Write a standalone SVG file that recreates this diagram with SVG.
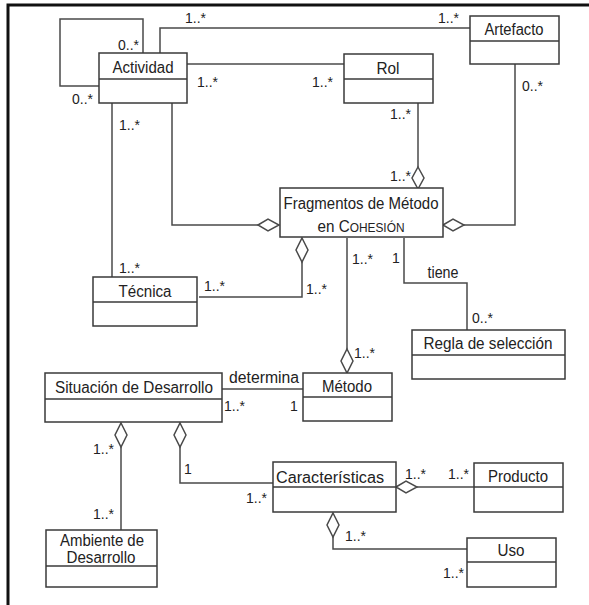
<svg xmlns="http://www.w3.org/2000/svg" width="589" height="605" viewBox="0 0 589 605">
<style>
.b{fill:#fff;stroke:#3a3a3a;stroke-width:1.5}
.l{fill:none;stroke:#4a4a4a;stroke-width:1.5}
.d{fill:#fff;stroke:#4a4a4a;stroke-width:1.5}
text{font-family:"Liberation Sans",Arial,sans-serif;fill:#222}
.t{font-size:16px;text-anchor:middle}
.m{font-size:14px}
</style>
<rect width="589" height="605" fill="#fff"/>
<path d="M8,605 V5 H589" fill="none" stroke="#111" stroke-width="3"/>
<g id="connectors">
<path class="l" d="M99,86 H60 V19 H143 V53"/>
<path class="l" d="M160,53 V28 H470"/>
<path class="l" d="M187,64 H344"/>
<path class="l" d="M418,103 V167"/>
<polygon class="d" points="418,167 424,178 418,189 412,178"/>
<path class="l" d="M515,64 V225 H464"/>
<polygon class="d" points="443,225 453,219 464,225 453,231"/>
<path class="l" d="M172,103 V225 H258"/>
<polygon class="d" points="258,225 268,219 279,225 268,231"/>
<path class="l" d="M112,103 V277"/>
<path class="l" d="M199,297 H302 V262"/>
<polygon class="d" points="302,238 308,250 302,262 296,250"/>
<path class="l" d="M347,238 V349"/>
<polygon class="d" points="347,349 353,361 347,373 341,361"/>
<path class="l" d="M404,238 V283 H467 V330"/>
<path class="l" d="M222,389 H303"/>
<polygon class="d" points="121,423 127,435 121,447 115,435"/>
<path class="l" d="M121,447 V530"/>
<polygon class="d" points="180,423 186,435 180,447 174,435"/>
<path class="l" d="M180,447 V483 H273"/>
<polygon class="d" points="396,487 406,481 417,487 406,493"/>
<path class="l" d="M417,487 H474"/>
<polygon class="d" points="333,513 339,525 333,537 327,525"/>
<path class="l" d="M333,537 V549 H467"/>
</g>
<g id="labels">
<text class="m" x="118" y="50" textLength="21" lengthAdjust="spacingAndGlyphs">0..*</text>
<text class="m" x="72" y="104" textLength="21" lengthAdjust="spacingAndGlyphs">0..*</text>
<text class="m" x="185" y="23" textLength="21" lengthAdjust="spacingAndGlyphs">1..*</text>
<text class="m" x="438" y="23" textLength="21" lengthAdjust="spacingAndGlyphs">1..*</text>
<text class="m" x="197" y="87" textLength="21" lengthAdjust="spacingAndGlyphs">1..*</text>
<text class="m" x="312" y="87" textLength="21" lengthAdjust="spacingAndGlyphs">1..*</text>
<text class="m" x="522" y="91" textLength="21" lengthAdjust="spacingAndGlyphs">0..*</text>
<text class="m" x="119" y="130" textLength="21" lengthAdjust="spacingAndGlyphs">1..*</text>
<text class="m" x="390" y="119" textLength="21" lengthAdjust="spacingAndGlyphs">1..*</text>
<text class="m" x="390" y="181" textLength="21" lengthAdjust="spacingAndGlyphs">1..*</text>
<text class="m" x="119" y="273" textLength="21" lengthAdjust="spacingAndGlyphs">1..*</text>
<text class="m" x="204" y="291" textLength="21" lengthAdjust="spacingAndGlyphs">1..*</text>
<text class="m" x="306" y="294" textLength="21" lengthAdjust="spacingAndGlyphs">1..*</text>
<text class="m" x="352" y="264" textLength="21" lengthAdjust="spacingAndGlyphs">1..*</text>
<text class="m" x="392" y="263">1</text>
<text class="t" x="443" y="278" textLength="31" lengthAdjust="spacingAndGlyphs">tiene</text>
<text class="m" x="472" y="323" textLength="21" lengthAdjust="spacingAndGlyphs">0..*</text>
<text class="m" x="354" y="358" textLength="21" lengthAdjust="spacingAndGlyphs">1..*</text>
<text class="t" x="264" y="383" textLength="70" lengthAdjust="spacingAndGlyphs">determina</text>
<text class="m" x="224" y="411" textLength="21" lengthAdjust="spacingAndGlyphs">1..*</text>
<text class="m" x="290" y="411">1</text>
<text class="m" x="93" y="454" textLength="21" lengthAdjust="spacingAndGlyphs">1..*</text>
<text class="m" x="93" y="519" textLength="21" lengthAdjust="spacingAndGlyphs">1..*</text>
<text class="m" x="184" y="474">1</text>
<text class="m" x="246" y="503" textLength="21" lengthAdjust="spacingAndGlyphs">1..*</text>
<text class="m" x="405" y="479" textLength="21" lengthAdjust="spacingAndGlyphs">1..*</text>
<text class="m" x="448" y="479" textLength="21" lengthAdjust="spacingAndGlyphs">1..*</text>
<text class="m" x="345" y="541" textLength="21" lengthAdjust="spacingAndGlyphs">1..*</text>
<text class="m" x="443" y="578" textLength="21" lengthAdjust="spacingAndGlyphs">1..*</text>
</g>
<g id="actividad"><rect class="b" x="99" y="53" width="88" height="50"/><line class="b" x1="99" y1="79" x2="187" y2="79"/><text class="t" x="143" y="73" textLength="61" lengthAdjust="spacingAndGlyphs">Actividad</text></g>
<g id="rol"><rect class="b" x="344" y="54" width="89" height="49"/><line class="b" x1="344" y1="79" x2="433" y2="79"/><text class="t" x="388" y="74" textLength="23" lengthAdjust="spacingAndGlyphs">Rol</text></g>
<g id="artefacto"><rect class="b" x="470" y="16" width="89" height="48"/><line class="b" x1="470" y1="41" x2="559" y2="41"/><text class="t" x="514" y="35" textLength="59" lengthAdjust="spacingAndGlyphs">Artefacto</text></g>
<g id="fragmentos"><rect class="b" x="280" y="188" width="163" height="49"/><text class="t" x="361" y="209" textLength="155" lengthAdjust="spacingAndGlyphs">Fragmentos de Método</text><text class="t" x="361" y="232" textLength="87" lengthAdjust="spacingAndGlyphs">en C<tspan font-size="12.5">OHESIÓN</tspan></text></g>
<g id="tecnica"><rect class="b" x="93" y="277" width="104" height="49"/><line class="b" x1="93" y1="302" x2="197" y2="302"/><text class="t" x="145" y="297" textLength="53" lengthAdjust="spacingAndGlyphs">Técnica</text></g>
<g id="regla"><rect class="b" x="412" y="330" width="153" height="49"/><line class="b" x1="412" y1="355" x2="565" y2="355"/><text class="t" x="488" y="349" textLength="129" lengthAdjust="spacingAndGlyphs">Regla de selección</text></g>
<g id="metodo"><rect class="b" x="303" y="373" width="89" height="48"/><line class="b" x1="303" y1="397" x2="392" y2="397"/><text class="t" x="347" y="392" textLength="50" lengthAdjust="spacingAndGlyphs">Método</text></g>
<g id="situacion"><rect class="b" x="45" y="373" width="177" height="49"/><line class="b" x1="45" y1="399" x2="222" y2="399"/><text class="t" x="134" y="393" textLength="158" lengthAdjust="spacingAndGlyphs">Situación de Desarrollo</text></g>
<g id="caracteristicas"><rect class="b" x="273" y="462" width="123" height="50"/><line class="b" x1="273" y1="487" x2="396" y2="487"/><text class="t" x="330" y="483" textLength="108" lengthAdjust="spacingAndGlyphs">Características</text></g>
<g id="producto"><rect class="b" x="474" y="463" width="89" height="49"/><line class="b" x1="474" y1="487" x2="563" y2="487"/><text class="t" x="518" y="482" textLength="60" lengthAdjust="spacingAndGlyphs">Producto</text></g>
<g id="uso"><rect class="b" x="467" y="538" width="89" height="49"/><line class="b" x1="467" y1="562" x2="556" y2="562"/><text class="t" x="511" y="556" textLength="27" lengthAdjust="spacingAndGlyphs">Uso</text></g>
<g id="ambiente"><rect class="b" x="46" y="530" width="111" height="57"/><line class="b" x1="46" y1="566" x2="157" y2="566"/><text class="t" x="102" y="546" textLength="84" lengthAdjust="spacingAndGlyphs">Ambiente de</text><text class="t" x="101" y="563" textLength="69" lengthAdjust="spacingAndGlyphs">Desarrollo</text></g>
</svg>
